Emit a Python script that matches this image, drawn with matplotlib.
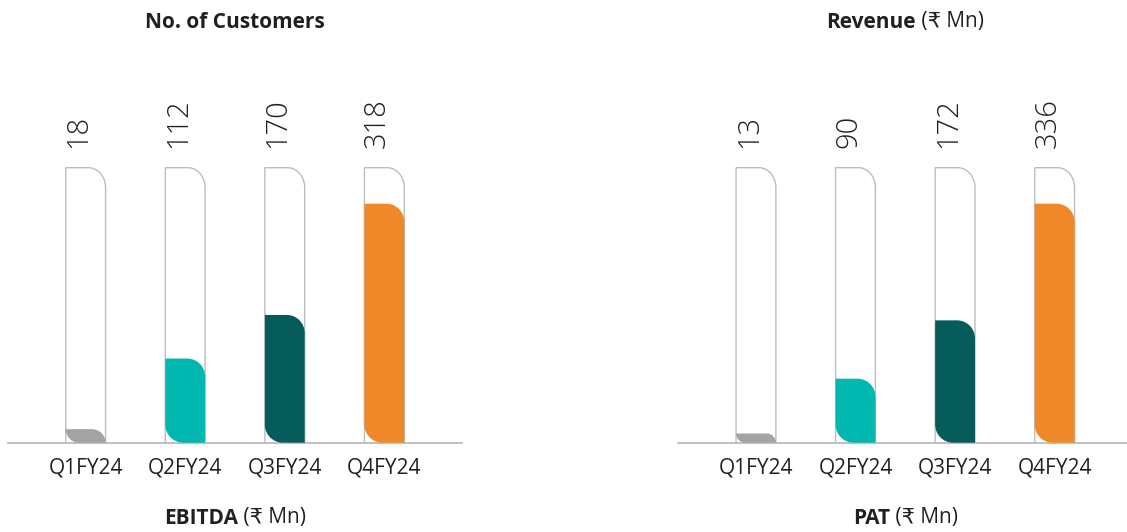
import matplotlib.pyplot as plt
from matplotlib.path import Path
from matplotlib.patches import PathPatch

quarters = ['Q1FY24', 'Q2FY24', 'Q3FY24', 'Q4FY24']
ebitda = [18, 112, 170, 318]
pat = [13, 90, 172, 336]
bar_colors = ['#A3A3A3', '#00B8B0', '#065B5B', '#F0882A']

top_titles = [('No. of Customers', ''), ('Revenue', ' (₹ Mn)')]
bottom_titles = [('EBITDA', ' (₹ Mn)'), ('PAT', ' (₹ Mn)')]

FONT = ['Open Sans', 'DejaVu Sans']
TXT = '#231F20'

W, H = 1127, 532
fig = plt.figure(figsize=(W / 100, H / 100), dpi=100)

K = 0.5523  # bezier quarter circle


def filled_bar(x0, x1, h, rtx, rty, rbx, rby):
    verts = [(x0, rby), (x0, h), (x1 - rtx, h),
             (x1 - rtx + K * rtx, h), (x1, h - rty + K * rty), (x1, h - rty),
             (x1, 0), (x0 + rbx, 0),
             (x0 + rbx - K * rbx, 0), (x0, rby - K * rby), (x0, rby),
             (x0, rby)]
    codes = [Path.MOVETO, Path.LINETO, Path.LINETO,
             Path.CURVE4, Path.CURVE4, Path.CURVE4,
             Path.LINETO, Path.LINETO,
             Path.CURVE4, Path.CURVE4, Path.CURVE4,
             Path.CLOSEPOLY]
    return Path(verts, codes)


def container(x0, x1, h, rx, ry):
    verts = [(x0, 0), (x0, h), (x1 - rx, h),
             (x1 - rx + K * rx, h), (x1, h - ry + K * ry), (x1, h - ry),
             (x1, 0)]
    codes = [Path.MOVETO, Path.LINETO, Path.LINETO,
             Path.CURVE4, Path.CURVE4, Path.CURVE4, Path.LINETO]
    return Path(verts, codes)


def draw_panel(left_px, values, top_t, bottom_t):
    base_px = 442.7
    top_px = 60
    ax_w, ax_h = 454, base_px - top_px
    ax = fig.add_axes([left_px / W, (H - base_px) / H, ax_w / W, ax_h / H])
    xlo, xhi = -0.78, 3.78
    vmax = max(values)
    ymax = vmax * ax_h / 239
    ax.set_xlim(xlo, xhi)
    ax.set_ylim(0, ymax)
    sx = ax_w / (xhi - xlo)
    sy = ax_h / ymax
    cont_h = vmax * 275 / 239
    bw = 0.2

    for i, v in enumerate(values):
        x0, x1 = i - bw, i + bw
        ax.add_patch(PathPatch(container(x0, x1, cont_h, 17 / sx, 20 / sy),
                               fill=False, edgecolor='#BDBDBD', lw=1.0, zorder=2))
        r = min(18, v * sy)
        ax.add_patch(PathPatch(filled_bar(x0, x1, v, r / sx, r / sy, r / sx, r / sy),
                               facecolor=bar_colors[i], edgecolor='none', zorder=3))
        ax.annotate(str(v), (i, cont_h), xytext=(-5, 14), textcoords='offset points',
                    rotation=90, ha='center', va='bottom', fontsize=21,
                    fontweight='light', family=FONT, color=TXT,
                    annotation_clip=False)

    for s in ['top', 'left', 'right']:
        ax.spines[s].set_visible(False)
    ax.spines['bottom'].set_color('#B5B5B5')
    ax.spines['bottom'].set_linewidth(1.2)
    ax.set_yticks([])
    ax.set_xticks(range(len(quarters)))
    ax.set_xticklabels(quarters, fontsize=15, family=FONT, color=TXT)
    ax.tick_params(axis='x', length=0, pad=11)
    ax.patch.set_visible(False)

    cx = left_px + ax_w / 2
    for (bold, rest), ypx in [(top_t, 22), (bottom_t, 518)]:
        t = fig.text(cx / W, 1 - ypx / H, bold, fontsize=15, fontweight='bold',
                     family=FONT, color=TXT, ha='center', va='center')
        if rest:
            fig.canvas.draw()
            bb = t.get_window_extent()
            t2 = fig.text(0, 1 - ypx / H, rest, fontsize=15, family=FONT,
                          color=TXT, ha='left', va='center')
            bb2 = t2.get_window_extent()
            total = bb.width + bb2.width
            start = cx - total / 2
            t.set_ha('left')
            t.set_x(start / W)
            t2.set_x((start + bb.width) / W)


draw_panel(8, ebitda, top_titles[0], bottom_titles[0])
draw_panel(678.3, pat, top_titles[1], bottom_titles[1])

fig.savefig('out.png', dpi=100)
